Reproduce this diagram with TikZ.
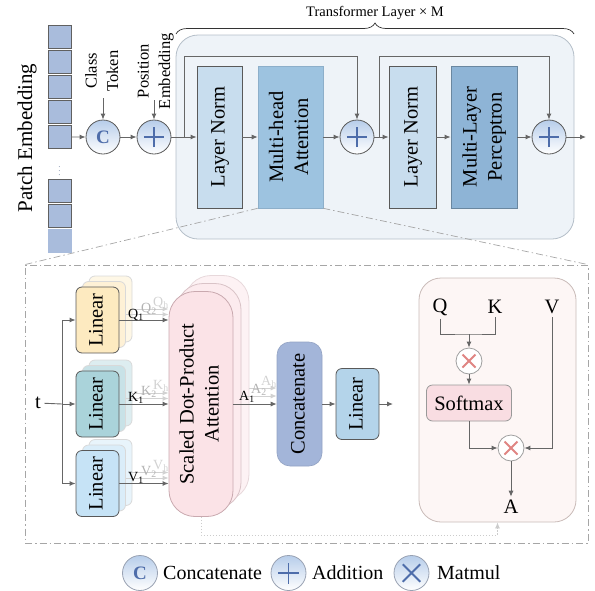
\documentclass[tikz,border=0pt]{standalone}
\usepackage{fontspec}
\setmainfont{Liberation Serif}
\usepackage{graphicx}
\usetikzlibrary{arrows.meta, positioning, calc, decorations.pathreplacing}

\definecolor{lineGray}{HTML}{666666}
\definecolor{edgeGray}{HTML}{595959}
\definecolor{patchBlue}{HTML}{A9BCDC}
\definecolor{tfBack}{HTML}{EEF3F8}
\definecolor{tfEdge}{HTML}{B4BEC8}
\definecolor{normBlue}{HTML}{C8DDEE}
\definecolor{attnBlue}{HTML}{9DC3E0}
\definecolor{mlpBlue}{HTML}{8EB4D6}
\definecolor{circTop}{HTML}{B7CDEA}
\definecolor{symBlue}{HTML}{4E6DAA}
\definecolor{linYellow}{HTML}{FDEAC0}
\definecolor{linTeal}{HTML}{AAD3DA}
\definecolor{linSky}{HTML}{C6E3F6}
\definecolor{sdpaPink}{HTML}{FBE3E7}
\definecolor{sdpaEdge}{HTML}{C9A9AF}
\definecolor{catBlue}{HTML}{A3B5D9}
\definecolor{linBlue}{HTML}{B4D4EA}
\definecolor{panelPink}{HTML}{FDF6F5}
\definecolor{panelEdge}{HTML}{C9BBB8}
\definecolor{softPink}{HTML}{F9DDE2}
\definecolor{mulRed}{HTML}{E08583}
\definecolor{zoomGray}{HTML}{A6A6A6}

\newcommand{\vlabel}[1]{\rotatebox{90}{\begin{tabular}{@{}c@{}}#1\end{tabular}}}
\newcommand{\ppb}{path picture bounding box}

\tikzset{
    font=\fontsize{20.5}{25}\selectfont,
    >={Latex[length=6pt,width=5pt]},
    % Lines
    flow/.style={->, line width=0.9pt, draw=lineGray},
    plain/.style={line width=0.9pt, draw=lineGray},
    flowLight/.style={->, line width=0.9pt, draw=gray!35},
    fbLine/.style={->, line width=0.8pt, draw=gray!40, dash pattern=on 1.5pt off 1.5pt},
    zoomLine/.style={draw=zoomGray, line width=0.7pt, dash pattern=on 7pt off 3pt on 1.5pt off 3pt},
    braceLine/.style={draw=black!80, line width=0.7pt, decorate, decoration={brace, amplitude=11pt}},
    % Operators
    opCircle/.style={circle, draw=edgeGray, line width=0.8pt, top color=circTop, bottom color=white,
                     minimum size=34pt, inner sep=0pt},
    addSign/.style={path picture={
        \draw[symBlue, line width=#1]
          ($(\ppb.west)!0.2!(\ppb.east)$) -- ($(\ppb.west)!0.8!(\ppb.east)$)
          ($(\ppb.south)!0.2!(\ppb.north)$) -- ($(\ppb.south)!0.8!(\ppb.north)$);}},
    addSign/.default=1.8pt,
    mulSign/.style={path picture={
        \draw[#1, line width=1.8pt]
          ($(\ppb.south west)!0.25!(\ppb.north east)$) -- ($(\ppb.south west)!0.75!(\ppb.north east)$)
          ($(\ppb.north west)!0.25!(\ppb.south east)$) -- ($(\ppb.north west)!0.75!(\ppb.south east)$);}},
    catSign/.style={text=symBlue, font=\fontsize{19}{20}\selectfont\bfseries},
    mulOp/.style={circle, draw=gray!75, line width=0.8pt, fill=white, minimum size=26pt,
                  inner sep=0pt, mulSign=mulRed},
    legendOp/.style={opCircle, draw=gray!60!symBlue!70, minimum size=35pt},
    legendTxt/.style={anchor=west, inner sep=0pt, font=\fontsize{20}{24}\selectfont},
    % Boxes
    patch/.style={rectangle, draw=gray!75!black, fill=patchBlue, line width=0.8pt,
                  minimum size=23pt, inner sep=0pt},
    tfBox/.style={rectangle, rounded corners=22pt, draw=tfEdge, fill=tfBack, line width=0.8pt},
    normBox/.style={rectangle, draw=edgeGray, fill=normBlue, line width=0.8pt, inner sep=0pt,
                    minimum width=45pt, minimum height=142pt},
    attnBox/.style={rectangle, draw=attnBlue!90!black, fill=attnBlue, line width=0.6pt, inner sep=0pt,
                    minimum width=65pt, minimum height=142pt},
    mlpBox/.style={rectangle, draw=mlpBlue!75!black, fill=mlpBlue, line width=0.8pt, inner sep=0pt,
                   minimum width=66pt, minimum height=142pt},
    zoomBox/.style={rectangle, zoomLine},
    linBox/.style={rectangle, rounded corners=6pt, draw=edgeGray, line width=0.8pt, inner sep=0pt,
                   minimum width=43pt, minimum height=66pt},
    linBack/.style={linBox, draw=gray!30},
    sdpaBox/.style={rectangle, rounded corners=26pt, draw=sdpaEdge, fill=sdpaPink, line width=0.8pt,
                    inner sep=0pt, minimum width=64pt, minimum height=225pt},
    sdpaBack/.style={sdpaBox, draw=sdpaEdge!45, fill=sdpaPink!45},
    catBox/.style={rectangle, rounded corners=13pt, draw=catBlue!90!black, fill=catBlue, line width=0.6pt,
                   inner sep=0pt, minimum width=45pt, minimum height=124pt},
    panel/.style={rectangle, rounded corners=22pt, draw=panelEdge, fill=panelPink, line width=0.8pt},
    softBox/.style={rectangle, rounded corners=6pt, draw=gray!80, fill=softPink, line width=0.8pt,
                    minimum width=85pt, minimum height=36pt, inner sep=0pt},
    subTxt/.style={anchor=base west, inner sep=0pt, font=\fontsize{14}{16}\selectfont},
    smallTxt/.style={font=\fontsize{16.5}{21.5}\selectfont, inner sep=0pt}
}

\begin{document}
\begin{tikzpicture}[x=1pt, y=-1pt]
\useasboundingbox (0,0) rectangle (595,590);

% patch embedding
\node[patch] (p1) at (59.5,37) {};
\node[patch, below=1.2pt of p1] (p2) {};
\node[patch, below=1.2pt of p2] (p3) {};
\node[patch, below=1.2pt of p3] (p4) {};
\node[patch, below=1.2pt of p4] (p5) {};
\node[text=patchBlue!80!black, font=\fontsize{9}{10}\selectfont, inner sep=0pt] (dots) at (59.5,168) {$\vdots$};
\node[patch] (p6) at (59.5,191) {};
\node[patch, below=1.2pt of p6] (p7) {};
\node[patch, below=1.2pt of p7, draw=patchBlue] (p8) {};
\node[rotate=90, font=\fontsize{21}{25}\selectfont] (pelbl) at (27,138) {Patch Embedding};

% class token / position embedding
\node[opCircle, catSign] (cat) at (103,137) {C};
\node[opCircle, addSign] (add1) at (154,137) {};
\node[smallTxt] (cls) at (103,71) {\vlabel{Class\\Token}};
\node[smallTxt] (pos) at (155,71) {\vlabel{Position\\Embedding}};
\coordinate (cin) at (103,98);
\coordinate (pin) at (154,100);
\draw[flow] (cin) -- (cat);
\draw[flow] (pin) -- (add1);
\draw[flow] (p5) -- (cat);
\draw[flow] (cat) -- (add1);

% transformer layer
\node[tfBox, minimum width=398pt, minimum height=204pt] (tf) at (375,137) {};
\draw[braceLine] (176,34) -- (574,34);
\node[font=\fontsize{14.5}{16}\selectfont] (tflbl) at (375,13) {Transformer Layer × M};

\node[normBox] (ln1) at (219.5,137) {\vlabel{Layer Norm}};
\node[attnBox] (mha) at (290.5,137) {\vlabel{Multi-head\\Attention}};
\node[opCircle, addSign] (add2) at (357,137) {};
\node[normBox, minimum width=47pt] (ln2) at (412.5,137) {\vlabel{Layer Norm}};
\node[mlpBox] (mlp) at (484,137) {\vlabel{Multi-Layer\\Perceptron}};
\node[opCircle, addSign] (add3) at (549,137) {};
\coordinate (tfout) at (586,137);

\coordinate (s1) at (184,137);
\coordinate (s1top) at (184,56);
\coordinate (s2) at (379,137);
\coordinate (s2top) at (379,56);

\draw[flow] (add1) -- (ln1);
\draw[flow] (ln1) -- (mha);
\draw[flow] (mha) -- (add2);
\draw[flow] (add2) -- (ln2);
\draw[flow] (ln2) -- (mlp);
\draw[flow] (mlp) -- (add3);
\draw[flow] (add3) -- (tfout);
\draw[flow] (s1) -- (s1top) -| (add2);
\draw[flow] (s2) -- (s2top) -| (add3);

% zoom into multi-head attention
\node[zoomBox, minimum width=563pt, minimum height=278pt] (zb) at (306.5,404) {};
\draw[zoomLine] (mha.south west) -- (zb.north west);
\draw[zoomLine] (mha.south east) -- (zb.north east);

% linear projections
\node[linBack, fill=linYellow!40] (qlin3) at (110.5,309) {};
\node[linBack, fill=linYellow!65] (qlin2) at (104,314.5) {};
\node[linBox, fill=linYellow] (qlin) at (97.5,320) {\vlabel{Linear}};
\node[linBack, fill=linTeal!40] (klin3) at (110.5,393) {};
\node[linBack, fill=linTeal!65] (klin2) at (104,398.5) {};
\node[linBox, fill=linTeal] (klin) at (97.5,404) {\vlabel{Linear}};
\node[linBack, fill=linSky!40] (vlin3) at (110.5,472.5) {};
\node[linBack, fill=linSky!65] (vlin2) at (104,478) {};
\node[linBox, fill=linSky] (vlin) at (97.5,483.5) {\vlabel{Linear}};

\node (t) at (38,403) {t};
\coordinate (br) at (62,404);
\draw[plain] (t) -- (br);
\draw[flow] (br) |- (qlin);
\draw[flow] (br) -- (klin);
\draw[flow] (br) |- (vlin);

% scaled dot-product attention heads
\node[sdpaBack] (sdpa3) at (217,388) {};
\node[sdpaBack, draw=sdpaEdge!70, fill=sdpaPink!70] (sdpa2) at (209,396) {};
\node[sdpaBox] (sdpa) at (201,404) {\vlabel{Scaled Dot-Product\\Attention}};

\draw[flowLight] (qlin3) -- (qlin3 -| sdpa.west);
\draw[flowLight] (qlin2) -- (qlin2 -| sdpa.west);
\draw[flow] (qlin) -- (qlin -| sdpa.west);
\draw[flowLight] (klin3) -- (klin3 -| sdpa.west);
\draw[flowLight] (klin2) -- (klin2 -| sdpa.west);
\draw[flow] (klin) -- (klin -| sdpa.west);
\draw[flowLight] (vlin3) -- (vlin3 -| sdpa.west);
\draw[flowLight] (vlin2) -- (vlin2 -| sdpa.west);
\draw[flow] (vlin) -- (vlin -| sdpa.west);

\node[subTxt] (q1) at (128,318) {Q\textsubscript{1}};
\node[subTxt, text=gray!60] (q2) at (141,312) {Q\textsubscript{2}};
\node[subTxt, text=gray!35] (qh) at (153,306) {Q\textsubscript{h}};
\node[subTxt] (k1) at (128,401) {K\textsubscript{1}};
\node[subTxt, text=gray!60] (k2) at (141,395) {K\textsubscript{2}};
\node[subTxt, text=gray!35] (kh) at (153,389) {K\textsubscript{h}};
\node[subTxt] (v1) at (128,481) {V\textsubscript{1}};
\node[subTxt, text=gray!60] (v2) at (141,475) {V\textsubscript{2}};
\node[subTxt, text=gray!35] (vh) at (153,469) {V\textsubscript{h}};

% concatenate and output projection
\node[catBox] (concat) at (299.5,404) {\vlabel{Concatenate}};
\node[linBox, fill=linBlue, minimum height=71pt] (lin) at (357.5,404) {\vlabel{Linear}};
\coordinate (linout) at (393,404);

\draw[flowLight] (sdpa3) -- (sdpa3 -| concat.west);
\draw[flowLight] (sdpa2) -- (sdpa2 -| concat.west);
\draw[flow] (sdpa) -- (concat);
\draw[flow] (concat) -- (lin);
\draw[flow] (lin) -- (linout);

\node[subTxt] (a1) at (239,400) {A\textsubscript{1}};
\node[subTxt, text=gray!60] (a2) at (251,393) {A\textsubscript{2}};
\node[subTxt, text=gray!35] (ah) at (261,385) {A\textsubscript{h}};

% attention detail
\node[panel, minimum width=157pt, minimum height=244pt] (rp) at (497.5,400) {};
\node (qq) at (440,307) {Q};
\node (kk) at (495,307) {K};
\node (vv) at (552,307) {V};
\coordinate (qk) at (469,334);
\node[mulOp] (m1) at (469,361) {};
\node[softBox] (sm) at (469,403) {Softmax};
\node[mulOp] (m2) at (511,448) {};
\node (aa) at (511,507) {A};

\draw[plain] (qq) |- (qk) -| (kk);
\draw[flow] (qk) -- (m1);
\draw[flow] (m1) -- (sm);
\draw[flow] (sm) |- (m2);
\draw[flow] (vv) |- (m2);
\draw[flow] (m2) -- (aa);

\coordinate (fb) at (201,535);
\draw[fbLine] (sdpa) -- (fb) -| (rp);

% legend
\node[legendOp, catSign] (lgC) at (140,573) {C};
\node[legendTxt] (lgCt) at (163,573) {Concatenate};
\node[legendOp, addSign=1.8pt] (lgA) at (288.5,573) {};
\node[legendTxt] (lgAt) at (312,573) {Addition};
\node[legendOp, mulSign=symBlue] (lgM) at (411.5,573) {};
\node[legendTxt] (lgMt) at (437,573) {Matmul};

\end{tikzpicture}
\end{document}
